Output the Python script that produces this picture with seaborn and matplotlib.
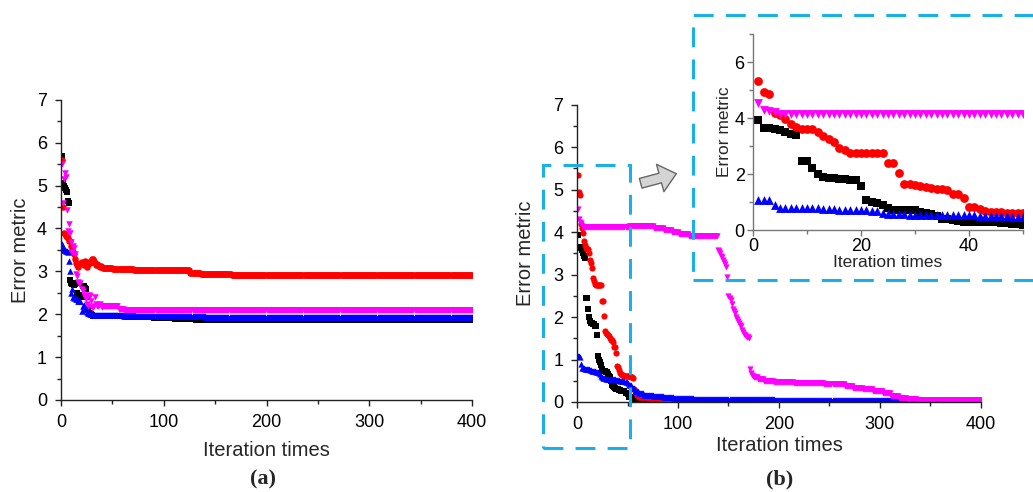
import numpy as np
import pandas as pd
import matplotlib
matplotlib.use('Agg')
import matplotlib.pyplot as plt
import seaborn as sns
from matplotlib.patches import Rectangle, FancyArrowPatch
from matplotlib.ticker import MultipleLocator

# ---- data: explicit early iterations, then plateaus as (value, repeat) runs ----
# panel (a)
a_black_head = [5.7, 5.05, 5.0, 4.95, 4.9, 4.85, 4.65, 4.6, 2.8, 2.72, 2.7, 2.7, 2.68, 2.7, 2.72,
                2.5, 2.45, 2.45, 2.42, 2.4, 2.65, 2.65, 2.62, 2.6, 2.4, 2.1, 2.02, 2.0, 2.0, 1.98]
a_black_runs = [(1.97, 20), (1.95, 20), (1.93, 20), (1.91, 20), (1.89, 20), (1.87, 270)]

a_red_head = [5.6, 4.5, 3.9, 3.88, 3.82, 3.8, 3.78, 3.72, 3.7, 3.6, 3.5, 3.45, 3.4, 3.3, 3.2,
              3.15, 3.1, 3.18, 3.2, 3.22, 3.2, 3.15, 3.25, 3.2, 3.1, 3.18, 3.22, 3.2, 3.25, 3.28,
              3.3, 3.25, 3.2, 3.15, 3.18, 3.15, 3.12, 3.1, 3.12, 3.1]
a_red_runs = [(3.08, 10), (3.05, 20), (3.03, 55), (2.97, 10), (2.94, 30), (2.92, 235)]

a_blue_head = [3.65, 3.55, 3.5, 3.5, 3.48, 3.47, 3.45, 3.25, 3.0, 2.5, 2.6, 2.4, 2.38, 2.4, 2.35,
               2.35, 2.32, 2.3, 2.3, 2.08, 2.2, 2.22, 2.15, 2.12, 2.05, 2.02, 2.02, 2.0, 2.0, 2.0]
a_blue_runs = [(1.99, 30), (1.97, 40), (1.95, 40), (1.93, 260)]

a_mag_head = [5.5, 4.6, 5.15, 5.3, 5.2, 4.42, 3.95, 4.1, 3.9, 3.68, 3.45, 3.6, 3.55, 3.4, 2.95,
              2.9, 2.75, 2.7, 2.72, 2.6, 2.55, 2.45, 2.4, 2.35, 2.25, 2.2, 2.45, 2.42, 2.3, 2.15,
              2.18, 2.2, 2.4, 2.25, 2.2, 2.2, 2.22, 2.25, 2.2, 2.18]
a_mag_runs = [(2.2, 15), (2.12, 5), (2.1, 340)]

# panel (b)
b_black_head = [3.94, 3.65, 3.65, 3.62, 3.58, 3.52, 3.45, 3.4, 2.45, 2.45, 2.2, 2.0, 1.9, 1.87, 1.85,
                1.83, 1.83, 1.8, 1.78, 1.58, 1.08, 1.0, 0.95, 0.88, 0.78, 0.73, 0.72, 0.72, 0.7, 0.7,
                0.65, 0.62, 0.58, 0.5, 0.4, 0.38, 0.35, 0.32, 0.3, 0.3, 0.3, 0.28, 0.28, 0.27, 0.27,
                0.26, 0.25, 0.22, 0.2, 0.18]
b_black_runs = [(0.12, 5), (0.07, 5), (0.04, 10), (0.02, 15), (0.01, 315)]

b_red_head = [5.34, 4.95, 4.87, 4.2, 4.1, 3.98, 3.78, 3.7, 3.62, 3.6, 3.6, 3.52, 3.35, 3.27, 3.15,
              2.93, 2.85, 2.77, 2.75, 2.75, 2.75, 2.75, 2.75, 2.75, 2.38, 2.38, 2.03, 1.66, 1.63, 1.6,
              1.57, 1.55, 1.5, 1.45, 1.45, 1.42, 1.3, 1.3, 1.15, 0.84, 0.83, 0.75, 0.68, 0.66, 0.64,
              0.63, 0.62, 0.61, 0.6, 0.6, 0.6, 0.6, 0.58, 0.58, 0.57, 0.3, 0.25, 0.2, 0.17, 0.15]
b_red_runs = [(0.12, 10), (0.09, 10), (0.07, 10), (0.05, 15), (0.03, 15), (0.02, 20), (0.01, 260)]

b_blue_head = [1.08, 1.08, 1.07, 0.9, 0.8, 0.8, 0.79, 0.78, 0.78, 0.78, 0.77, 0.77, 0.76, 0.75, 0.74,
               0.73, 0.72, 0.72, 0.71, 0.7, 0.7, 0.69, 0.67, 0.6, 0.58, 0.57, 0.57, 0.56, 0.55, 0.55,
               0.55, 0.55, 0.54, 0.54, 0.54, 0.53, 0.53, 0.53, 0.52, 0.52, 0.52, 0.51, 0.5, 0.5, 0.5,
               0.5, 0.5, 0.48, 0.46, 0.45]
b_blue_runs = [(0.4, 3), (0.33, 3), (0.27, 4), (0.2, 5), (0.16, 10), (0.13, 10), (0.11, 10),
               (0.09, 20), (0.07, 30), (0.06, 50), (0.05, 205)]

b_mag_head = [4.55, 4.3, 4.25, 4.22, 4.15]
b_mag_runs = [(4.13, 45), (4.14, 25), (4.1, 10), (4.05, 8), (4.0, 7), (3.95, 10), (3.92, 29)]
b_mag_drop = [3.58, 3.55, 3.5, 3.45, 3.42, 3.35, 3.3, 3.25, 3.18, 2.95, 2.5, 2.45, 2.4, 2.3, 2.2,
              2.15, 2.1, 2.0, 1.95, 1.9, 1.85, 1.82, 1.78, 1.7, 1.65, 1.6, 1.58, 1.55, 1.53, 1.52,
              1.5, 0.77, 0.68, 0.64, 0.62]
b_mag_tail = [(0.58, 4), (0.54, 6), (0.5, 10), (0.47, 20), (0.45, 30), (0.43, 20), (0.38, 8),
              (0.34, 10), (0.3, 10), (0.25, 10), (0.2, 8), (0.15, 8), (0.1, 8), (0.07, 10), (0.05, 64)]


def build(head, runs, more=(), tail=()):
    vals = list(head)
    for v, n in runs:
        vals += [v] * n
    vals += list(more)
    for v, n in tail:
        vals += [v] * n
    return np.array(vals)


series_a = [('black', 's', build(a_black_head, a_black_runs)),
            ('red', 'o', build(a_red_head, a_red_runs)),
            ('blue', '^', build(a_blue_head, a_blue_runs)),
            ('magenta', 'v', build(a_mag_head, a_mag_runs))]
series_b = [('black', 's', build(b_black_head, b_black_runs)),
            ('red', 'o', build(b_red_head, b_red_runs)),
            ('blue', '^', build(b_blue_head, b_blue_runs)),
            ('magenta', 'v', build(b_mag_head, b_mag_runs, b_mag_drop, b_mag_tail))]
colors = {'black': '#000000', 'red': '#FF0000', 'blue': '#0000FF', 'magenta': '#FF00FF'}

sns.set_style('white')
plt.rcParams['font.family'] = ['Liberation Sans', 'DejaVu Sans']

fig = plt.figure(figsize=(10.33, 4.92), dpi=100)


def draw(ax, series, size):
    for name, mk, y in series:
        df = pd.DataFrame({'iter': np.arange(1, len(y) + 1), 'err': y})
        sns.scatterplot(data=df, x='iter', y='err', marker=mk, color=colors[name],
                        s=size, linewidth=0, ax=ax, legend=False)


def style(ax, xmax, xmaj, xmin, ymaj, ymin, spine='#222222', fs_tick=13, fs_lab=14.5, pad=6):
    ax.set_xlim(0, xmax)
    ax.set_ylim(0, 7)
    for s in ['top', 'right']:
        ax.spines[s].set_visible(False)
    for s in ['left', 'bottom']:
        ax.spines[s].set_color(spine)
        ax.spines[s].set_linewidth(1.0)
    ax.xaxis.set_major_locator(MultipleLocator(xmaj))
    ax.xaxis.set_minor_locator(MultipleLocator(xmin))
    ax.yaxis.set_major_locator(MultipleLocator(ymaj))
    ax.yaxis.set_minor_locator(MultipleLocator(ymin))
    ax.tick_params(which='both', direction='out', color=spine, labelcolor='black',
                   left=True, bottom=True, width=1.0)
    ax.tick_params(which='major', length=4, pad=pad, labelsize=fs_tick)
    ax.tick_params(which='minor', length=3)
    ax.set_xlabel('Iteration times', fontsize=fs_lab)
    ax.set_ylabel('Error metric', fontsize=fs_lab)


# panel (a)
ax_a = fig.add_axes([0.059, 0.187, 0.398, 0.610])
draw(ax_a, series_a, 22)
style(ax_a, 400, 100, 50, 1, 0.5)
ax_a.xaxis.labelpad = 7
ax_a.yaxis.labelpad = 5

# panel (b)
ax_b = fig.add_axes([0.5586, 0.183, 0.391, 0.604])
draw(ax_b, series_b, 20)
style(ax_b, 400, 100, 50, 1, 0.5)
ax_b.xaxis.labelpad = 2.5
ax_b.yaxis.labelpad = 13

# zoomed inset of the first 50 iterations
ax_in = fig.add_axes([0.729, 0.5325, 0.2614, 0.398])
ax_in.patch.set_alpha(0)
draw(ax_in, series_b, 40)
style(ax_in, 50, 20, 10, 2, 1, spine='#777777', fs_tick=13, fs_lab=12.5, pad=2)
ax_in.xaxis.labelpad = 0
ax_in.yaxis.labelpad = 2

# dashed highlight boxes
W, H = 1033.0, 492.0
box_kw = dict(fill=False, edgecolor='#1AAFE6', linewidth=2.2, linestyle=(0, (6.5, 4)),
              transform=fig.transFigure, zorder=10)
fig.add_artist(Rectangle((543 / W, 1 - 448 / H), 87 / W, 283 / H, **box_kw))
fig.add_artist(Rectangle((693 / W, 1 - 280 / H), 360 / W, 265 / H, **box_kw))

# arrow from the small box to the inset
arrow = FancyArrowPatch((638 / W, 1 - 184 / H), (679 / W, 1 - 173 / H),
                        arrowstyle='simple,head_width=1.7,head_length=1.0,tail_width=0.6',
                        mutation_scale=12, facecolor='#D4D4D4', edgecolor='#666666',
                        linewidth=1.0, transform=fig.transFigure, zorder=11)
fig.add_artist(arrow)

fig.text(263 / W, 1 - 479 / H, '(a)', ha='center', va='center', fontsize=16,
         fontweight='bold', family=['Liberation Serif', 'DejaVu Serif'])
fig.text(780 / W, 1 - 479 / H, '(b)', ha='center', va='center', fontsize=16,
         fontweight='bold', family=['Liberation Serif', 'DejaVu Serif'])

fig.savefig('out.png', dpi=100)
